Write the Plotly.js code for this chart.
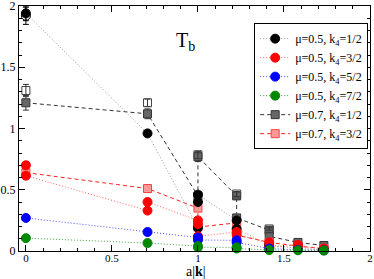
<!DOCTYPE html>
<html><head><meta charset="utf-8">
<script src="https://cdn.plot.ly/plotly-3.0.1.min.js"></script>
<style>html,body{margin:0;padding:0;background:#fff}#plot{width:374px;height:279px}</style>
</head><body><div id="plot"></div>
<script>
// series 1: mu=0.5, k4=1/2
const s1_x = [0, 0.707, 1, 1, 1, 1.225, 1.225, 1.414, 1.581, 1.732];
const s1_y = [1.94, 0.96, 0.19, 0.40, 0.46, 0.25, 0.18, 0.05, 0.02, 0.01];
const s1_e = [0.06, 0.025, 0.015, 0.02, 0.02, 0.015, 0.01, 0.008, 0.005, 0.004];
const s1o_x = [0]; const s1o_y = [1.92]; const s1o_e = [0.07];
// series 2: mu=0.5, k4=3/2
const s2_x = [0, 0, 0.707, 0.707, 1, 1, 1, 1.225, 1.225, 1.414, 1.414, 1.581, 1.581, 1.732];
const s2_y = [0.70, 0.615, 0.33, 0.40, 0.25, 0.22, 0.12, 0.155, 0.135, 0.07, 0.03, 0.05, 0.03, 0.02];
const s2_e = [0.03, 0.025, 0.02, 0.02, 0.015, 0.015, 0.01, 0.01, 0.01, 0.008, 0.006, 0.006, 0.005, 0.004];
// series 3: mu=0.5, k4=5/2
const s3_x = [0, 0.707, 1, 1, 1.225, 1.225, 1.414, 1.581, 1.732];
const s3_y = [0.27, 0.155, 0.11, 0.09, 0.087, 0.07, 0.02, 0.01, 0.005];
const s3_e = [0.015, 0.01, 0.008, 0.008, 0.006, 0.006, 0.004, 0.003, 0.002];
// series 4: mu=0.5, k4=7/2
const s4_x = [0, 0.707, 1, 1, 1.225, 1.225, 1.414, 1.581, 1.732];
const s4_y = [0.105, 0.065, 0.04, 0.03, 0.03, 0.02, 0.008, 0.006, 0.004];
const s4_e = [0.01, 0.006, 0.005, 0.005, 0.004, 0.004, 0.003, 0.002, 0.002];
// series 5: mu=0.7, k4=1/2
const s5_x = [0, 0.707, 1, 1, 1.225, 1.225, 1.414, 1.414, 1.581, 1.732];
const s5_y = [1.21, 1.12, 0.45, 0.77, 0.45, 0.27, 0.17, 0.12, 0.07, 0.045];
const s5_e = [0.06, 0.04, 0.03, 0.04, 0.03, 0.02, 0.015, 0.01, 0.008, 0.006];
const s5o_x = [0, 0.707, 1, 1.225, 1.414];
const s5o_y = [1.31, 1.21, 0.785, 0.465, 0.18];
const s5o_e = [0.05, 0.03, 0.03, 0.02, 0.01];
// series 6: mu=0.7, k4=3/2
const s6_x = [0, 0.707, 1, 1, 1.225, 1.225, 1.414, 1.581, 1.732];
const s6_y = [0.64, 0.51, 0.35, 0.195, 0.23, 0.13, 0.07, 0.04, 0.02];
const s6_e = [0.02, 0.015, 0.015, 0.01, 0.01, 0.008, 0.006, 0.005, 0.004];

const names = ['μ=0.5, k<sub>4</sub>=1/2','μ=0.5, k<sub>4</sub>=3/2','μ=0.5, k<sub>4</sub>=5/2','μ=0.5, k<sub>4</sub>=7/2','μ=0.7, k<sub>4</sub>=1/2','μ=0.7, k<sub>4</sub>=3/2'];

const DASH = '4px,3px', DOT = '1px,2px';

function tr(x,y,e,opt){
  return {
    x:x, y:y, type:'scatter', mode: opt.mode||'lines+markers', name: opt.name||'',
    showlegend: !!opt.name, legendgroup: opt.group,
    error_y:{type:'data', array:e, visible:true, color:opt.ecol, thickness:1, width:3},
    line:{color:opt.lcol, dash:opt.dash, width:1},
    marker:{symbol:opt.sym, size:opt.size||9, color:opt.mcol, line:{color:opt.olcol, width:opt.olw||1}},
    cliponaxis:false
  };
}
function stripe(x,y,sym,group){
  return {x:x,y:y,type:'scatter',mode:'markers',showlegend:false,legendgroup:group,hoverinfo:'skip',
    marker:{symbol:sym,size:7,color:'rgba(0,0,0,0)',line:{color:'#ffffff',width:1.6}}};
}

const data = [
  tr(s5_x,s5_y,s5_e,{name:names[4],group:'g5',ecol:'#333',lcol:'#333333',dash:DASH,sym:'square',mcol:'#666666',olcol:'#333333',size:8}),
  tr(s5o_x,s5o_y,s5o_e,{mode:'markers',group:'g5',ecol:'#333',lcol:'#333',sym:'square-open',mcol:'#444444',olcol:'#444444',size:8}),
  tr(s6_x,s6_y,s6_e,{name:names[5],group:'g6',ecol:'#ff4040',lcol:'#ff2020',dash:DASH,sym:'square',mcol:'#ff9999',olcol:'#ff4040',size:8}),
  tr(s1_x,s1_y,s1_e,{name:names[0],group:'g1',ecol:'#000',lcol:'#9a9a9a',dash:DOT,sym:'circle',mcol:'#000000',olcol:'#000000'}),
  tr(s1o_x,s1o_y,s1o_e,{mode:'markers',group:'g1',ecol:'#000',lcol:'#000',sym:'circle-open',mcol:'#000',olcol:'#000'}),
  tr(s2_x,s2_y,s2_e,{name:names[1],group:'g2',ecol:'#ff0000',lcol:'#ff6060',dash:DOT,sym:'circle',mcol:'#ff0000',olcol:'#ff0000'}),
  stripe(s2_x,s2_y,'line-ns-open','g2'),
  tr(s3_x,s3_y,s3_e,{name:names[2],group:'g3',ecol:'#0000ff',lcol:'#5050ff',dash:DOT,sym:'circle',mcol:'#0000ff',olcol:'#0000ff'}),
  stripe(s3_x,s3_y,'line-ew-open','g3'),
  tr(s4_x,s4_y,s4_e,{name:names[3],group:'g4',ecol:'#008800',lcol:'#40a040',dash:DOT,sym:'circle',mcol:'#008800',olcol:'#008800'}),
  stripe(s4_x,s4_y,'line-ne-open','g4')
];

const axisCommon = {showline:true, mirror:'allticks', linecolor:'#000', linewidth:1, ticks:'inside', ticklen:6, tickcolor:'#000',
  showgrid:false, zeroline:false, tickfont:{family:'Liberation Serif, serif', size:12, color:'#000'},
  ticklabeloverflow:'allow', minor:{ticks:'inside', ticklen:3, tickcolor:'#000', dtick:0.1, showgrid:false}};

const layout = {
  width:374, height:279, margin:{l:19, r:4, t:6, b:28},
  paper_bgcolor:'#fff', plot_bgcolor:'#fff',
  xaxis:Object.assign({}, axisCommon, {range:[-0.04,2], dtick:0.5, tick0:0, ticklabelstandoff:-3,
    tickfont:{family:'Liberation Serif, serif', size:11, color:'#000'}}),
  yaxis:Object.assign({}, axisCommon, {range:[0,2], dtick:0.5, tick0:0, ticklabelstandoff:0}),
  legend:{x:0.67, y:0.93, xanchor:'left', yanchor:'top', bgcolor:'#fff', bordercolor:'#000', borderwidth:1,
    font:{family:'Liberation Serif, serif', size:12, color:'#000'}, tracegroupgap:0, itemwidth:30,
    traceorder:'normal'},
  annotations:[
    {x:0.93, y:1.71, xref:'x', yref:'y', text:'T<sub>b</sub>', showarrow:false,
     font:{family:'Liberation Serif, serif', size:20, color:'#000'}},
    {x:0.99, y:0, xref:'x', yref:'paper', yshift:-29, yanchor:'bottom', borderpad:0, text:'a|<b>k</b>|', showarrow:false,
     font:{family:'Liberation Serif, serif', size:14, color:'#000'}}
  ],
  showlegend:true
};

data[3].legendrank=1; data[5].legendrank=2; data[7].legendrank=3; data[9].legendrank=4; data[0].legendrank=5; data[2].legendrank=6;

Plotly.newPlot('plot', data, layout, {displayModeBar:false, staticPlot:true});
</script></body></html>
